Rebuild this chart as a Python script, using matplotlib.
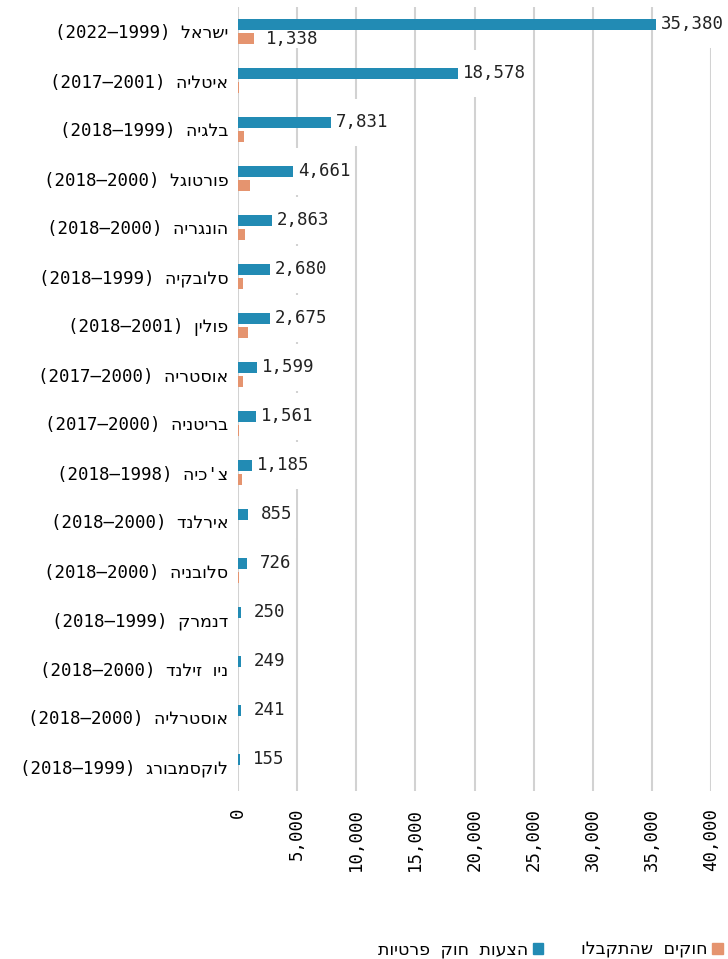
import matplotlib
matplotlib.use('Agg')
import matplotlib.pyplot as plt
from matplotlib.path import Path
from matplotlib.patches import Patch
import numpy as np

plt.rcParams['font.family'] = ['DejaVu Sans Mono', 'DejaVu Sans']

# ---- data ----
countries = ["ישראל", "איטליה", "בלגיה", "פורטוגל", "הונגריה", "סלובקיה", "פולין",
             "אוסטריה", "בריטניה", "צ'כיה", "אירלנד", "סלובניה", "דנמרק",
             "ניו זילנד", "אוסטרליה", "לוקסמבורג"]
start_years = [1999, 2001, 1999, 2000, 2000, 1999, 2001, 2000, 2000, 1998, 2000, 2000,
               1999, 2000, 2000, 1999]
end_years = [2022, 2017, 2018, 2018, 2018, 2018, 2018, 2017, 2017, 2018, 2018, 2018,
             2018, 2018, 2018, 2018]
proposals = [35380, 18578, 7831, 4661, 2863, 2680, 2675, 1599, 1561, 1185, 855, 726,
             250, 249, 241, 155]
passed = [1338, 120, 540, 1040, 560, 400, 845, 420, 60, 310, 15, 110, 15, 30, 15, 10]
series_names = ["הצעות חוק פרטיות", "חוקים שהתקבלו"]
xticks = [0, 5000, 10000, 15000, 20000, 25000, 30000, 35000, 40000]

BLUE = "#228bb4"
ORANGE = "#e5946f"
GRID = "#d2d2d2"
FS = 12.5
DPI = 100


def vis(s):
    # visual (left-to-right) order of a Hebrew string
    return s[::-1]


labels = [f"({e}–{s}) " + vis(c) for c, s, e in zip(countries, start_years, end_years)]


def tall_box(x0, y0, width, height, mutation_size):
    padx = 0.2 * mutation_size
    cy = y0 + height / 2
    half = 1.38 * mutation_size
    xa = x0 - padx
    xb = x0 + width + padx
    return Path([(xa, cy - half), (xb, cy - half), (xb, cy + half), (xa, cy + half),
                 (xa, cy - half)], closed=True)


fig = plt.figure(figsize=(7.28, 9.59), dpi=DPI)
ax = fig.add_axes([238 / 728, 1 - 791 / 959, (711 - 238) / 728, (791 - 7) / 959])

y = np.arange(len(countries))
h = 0.224
off = 0.143
ax.barh(y - off, proposals, height=h, color=BLUE, zorder=3)
ax.barh(y + off, passed, height=h, color=ORANGE, zorder=3)

ax.set_xlim(0, 40000)
ax.set_ylim(len(countries) - 0.5, -0.5)
ax.set_xticks(xticks)
ax.set_xticklabels([f"{t:,}" for t in xticks], rotation=90, va='top', ha='center', fontsize=FS)
ax.set_yticks(y)
ax.set_yticklabels(labels, fontsize=FS)
ax.tick_params(axis='x', length=0, pad=12)
ax.tick_params(axis='y', length=0, pad=7)
ax.grid(axis='x', color=GRID, linewidth=1.5, zorder=0)
ax.set_axisbelow(True)
for sp in ax.spines.values():
    sp.set_visible(False)

fs_px = FS * DPI / 72
for yi, v in zip(y, proposals):
    txt = f"{v:,}"
    w = len(txt) * 0.602 * fs_px
    dx = max(29, w / 2 + 5)
    ax.annotate(txt, xy=(v, yi - off), xytext=(dx, 0), textcoords='offset pixels',
                ha='center', va='center', fontsize=FS, color='#222222', zorder=2,
                bbox=dict(boxstyle=tall_box, fc='white', ec='none'))

ax.annotate(f"{passed[0]:,}", xy=(passed[0], y[0] + off), xytext=(38, 0),
            textcoords='offset pixels', ha='center', va='center', fontsize=FS,
            color='#222222', zorder=2,
            bbox=dict(boxstyle='square,pad=0.05', fc='white', ec='none'))

handles = [Patch(color=BLUE, label=vis(series_names[0])),
           Patch(color=ORANGE, label=vis(series_names[1]))]
fig.legend(handles=handles, loc='center right', bbox_to_anchor=(0.993, 1 - 950 / 959),
           ncol=2, frameon=False, markerfirst=False, handlelength=0.6, handleheight=0.6,
           handletextpad=0.3, columnspacing=2.15, borderpad=0, borderaxespad=0,
           fontsize=FS)

fig.savefig("out.png", dpi=DPI)
